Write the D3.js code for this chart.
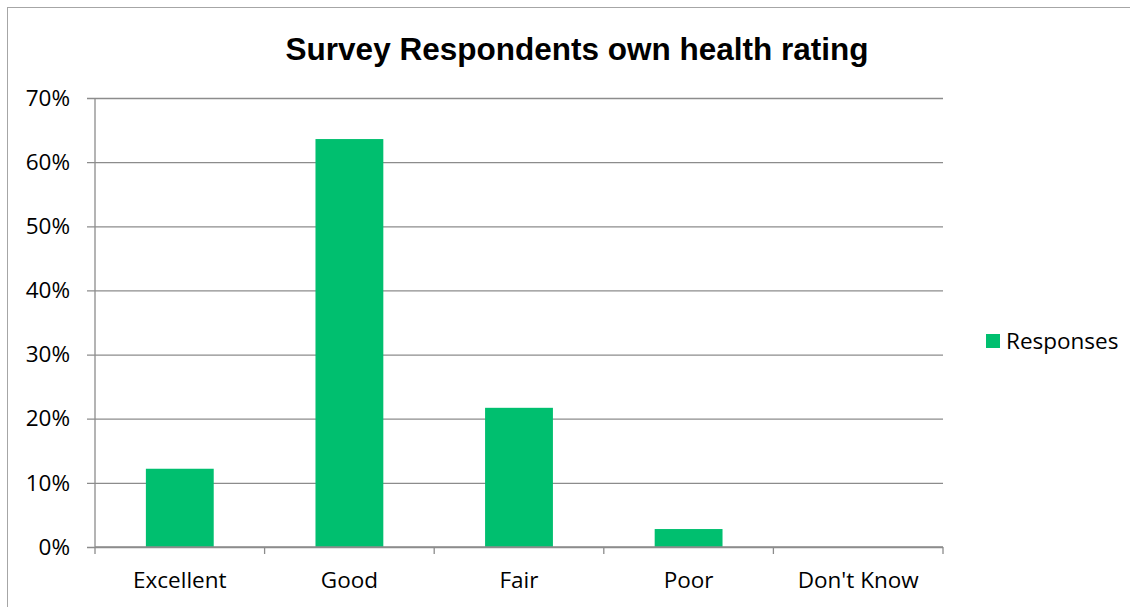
<!DOCTYPE html>
<html>
<head>
<meta charset="utf-8">
<script src="https://cdn.jsdelivr.net/npm/d3@7"></script>
<style>
  body { margin: 0; background: #fff; }
  svg { display: block; }
</style>
</head>
<body>
<svg width="1130" height="607"></svg>
<script>
// chart data
var categories = ["Excellent", "Good", "Fair", "Poor", "Don't Know"];
var responses = [0.122, 0.636, 0.217, 0.028, 0];
var yTicks = [0, 0.1, 0.2, 0.3, 0.4, 0.5, 0.6, 0.7];
var seriesName = "Responses";

var svg = d3.select("svg"),
    width = +svg.attr("width"),
    height = +svg.attr("height"),
    margin = {top: 98, right: 187, bottom: 60, left: 95},
    innerW = width - margin.left - margin.right,
    innerH = height - margin.top - margin.bottom,
    bodyFont = "'Open Sans', 'Noto Sans', sans-serif";

// chart border
svg.append("rect")
    .attr("x", 7.5).attr("y", 7.5)
    .attr("width", width).attr("height", height)
    .attr("fill", "none")
    .attr("stroke", "#a6a6a6")
    .attr("stroke-width", 1);

svg.append("text")
    .attr("x", 577).attr("y", 60)
    .attr("text-anchor", "middle")
    .attr("font-family", "'Liberation Sans', Arial, sans-serif")
    .attr("font-weight", "bold")
    .attr("font-size", 31.5)
    .attr("fill", "#000")
    .text("Survey Respondents own health rating");

var g = svg.append("g").attr("transform", "translate(" + margin.left + "," + margin.top + ")");

var x = d3.scaleBand()
    .domain(categories)
    .range([0, innerW])
    .paddingInner(0.6)
    .paddingOuter(0.3);

var xb = d3.scaleBand().domain(categories).range([0, innerW]);

var y = d3.scaleLinear()
    .domain([0, 0.7])
    .range([innerH, 0]);

// gridlines + y axis
var yAxis = g.append("g")
    .call(d3.axisLeft(y).tickValues(yTicks).tickFormat(d3.format(".0%")).tickSize(-innerW).tickPadding(25));
yAxis.select(".domain").remove();
yAxis.selectAll(".tick line")
    .attr("x1", -8)
    .attr("stroke", "#8c8c8c")
    .attr("stroke-width", 1.3);
yAxis.selectAll(".tick text")
    .attr("font-family", bodyFont)
    .attr("font-size", 22.5)
    .attr("fill", "#000");

g.append("line")
    .attr("x1", 0).attr("x2", 0)
    .attr("y1", 0).attr("y2", innerH)
    .attr("stroke", "#8c8c8c")
    .attr("stroke-width", 1.3);

// bars
g.selectAll(".bar")
    .data(responses)
  .enter().append("rect")
    .attr("class", "bar")
    .attr("x", function(d, i) { return x(categories[i]); })
    .attr("width", x.bandwidth())
    .attr("y", function(d) { return y(d); })
    .attr("height", function(d) { return innerH - y(d); })
    .attr("fill", "#00bf6f");

// x axis
var xAxis = g.append("g")
    .attr("transform", "translate(0," + innerH + ")");
xAxis.append("line")
    .attr("x1", 0).attr("x2", innerW)
    .attr("stroke", "#8c8c8c")
    .attr("stroke-width", 1.3);
xAxis.selectAll(".xtick")
    .data(d3.range(categories.length + 1))
  .enter().append("line")
    .attr("x1", function(i) { return i * xb.step(); })
    .attr("x2", function(i) { return i * xb.step(); })
    .attr("y1", 0).attr("y2", 7)
    .attr("stroke", "#8c8c8c")
    .attr("stroke-width", 1.3);
xAxis.selectAll(".xlabel")
    .data(categories)
  .enter().append("text")
    .attr("x", function(d) { return xb(d) + xb.bandwidth() / 2; })
    .attr("y", 41)
    .attr("text-anchor", "middle")
    .attr("font-family", bodyFont)
    .attr("font-size", 22.5)
    .attr("fill", "#000")
    .text(function(d) { return d; });

// legend
var legend = svg.append("g").attr("transform", "translate(986,334)");
legend.append("rect")
    .attr("width", 14).attr("height", 14)
    .attr("fill", "#00bf6f");
legend.append("text")
    .attr("x", 20).attr("y", 7)
    .attr("dy", "0.35em")
    .attr("font-family", bodyFont)
    .attr("font-size", 22.5)
    .attr("fill", "#000")
    .text(seriesName);
</script>
</body>
</html>
